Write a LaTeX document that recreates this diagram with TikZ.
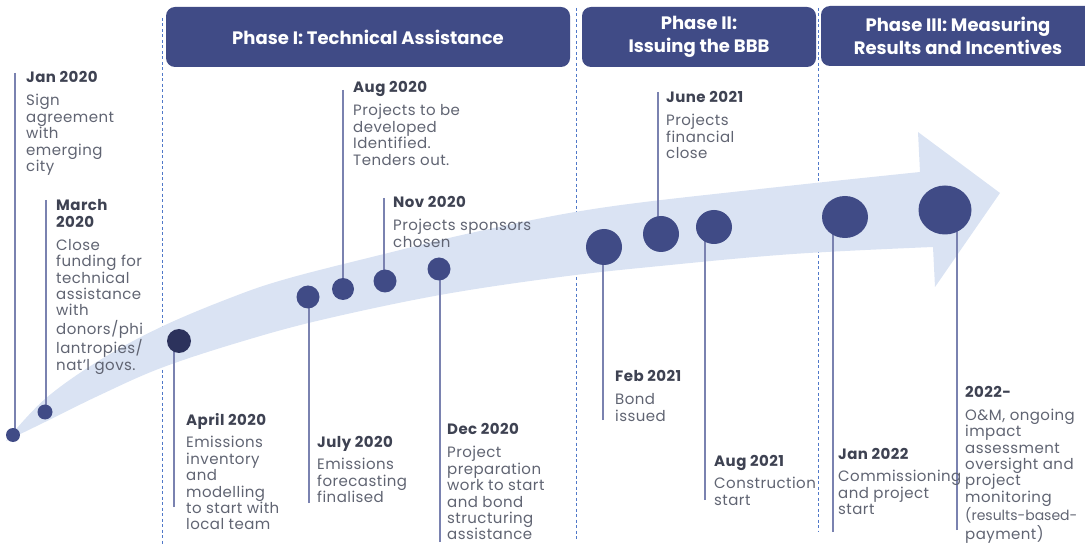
\documentclass[tikz,border=0pt]{standalone}
\usepackage{fontspec}
\setmainfont{Poppins}
\usetikzlibrary{shapes.geometric}
\definecolor{hdr}{RGB}{64,75,134}
\definecolor{dotc}{RGB}{64,75,134}
\definecolor{dotdark}{RGB}{44,50,92}
\definecolor{arrowc}{RGB}{218,227,243}
\definecolor{evl}{RGB}{122,130,176}
\definecolor{dashc}{RGB}{80,120,200}
\definecolor{datec}{RGB}{62,66,82}
\definecolor{bodyc}{RGB}{96,100,114}
\newcommand\dt[1]{{\bfseries\color{datec}#1}}
\newcommand\evtab[1]{\begin{tabular}[t]{@{}l@{}}#1\end{tabular}}
\begin{document}
\begin{tikzpicture}[x=1pt,y=-1pt,
 hdrbox/.style={fill=hdr, rounded corners=9pt, text=white, font=\fontsize{18}{23}\selectfont\bfseries, align=center, inner sep=0pt},
 evtext/.style={anchor=base west, inner sep=0pt, text=bodyc, font=\fontsize{15}{16.4}\selectfont\addfontfeature{LetterSpace=3}},
 dotn/.style={circle, fill=dotc, inner sep=0pt},
 dotel/.style={ellipse, fill=dotc, inner sep=0pt},
 evline/.style={draw=evl, line width=1.4pt},
 phaseline/.style={draw=dashc, line width=0.9pt, dash pattern=on 3pt off 2.5pt},
]
\useasboundingbox (0,0) rectangle (1085,545);
\clip (0,0) rectangle (1085,545);

% phase separators
\coordinate (s1a) at (162,18); \coordinate (s1b) at (162,545);
\coordinate (s2a) at (576,8);  \coordinate (s2b) at (576,540);
\coordinate (s3a) at (818,8);  \coordinate (s3b) at (818,532);
\draw[phaseline] (s1a) -- (s1b);
\draw[phaseline] (s2a) -- (s2b);
\draw[phaseline] (s3a) -- (s3b);

% phase headers
\node[hdrbox, minimum width=404pt, minimum height=60pt] (p1) at (368,37) {Phase I: Technical Assistance};
\node[hdrbox, minimum width=234pt, minimum height=60pt] (p2) at (699,37) {Phase II:\\Issuing the BBB};
\node[hdrbox, minimum width=274pt, minimum height=60pt] (p3) at (958,36) {Phase III: Measuring\\Results and Incentives};

% big arrow
\fill[arrowc] plot[smooth, tension=0.6] coordinates {(6,441) (45,399) (100,360) (161,327) (230,298) (286,279) (380,255) (480,231) (600,208) (760,189) (920,172)}
  -- (918,132) -- (1000,193) -- (935,287) -- (933,247)
  -- plot[smooth, tension=0.6] coordinates {(933,247) (793,254) (660,266) (560,277) (440,295) (321,320) (240,342) (161,368) (100,395) (45,422) (6,441)} -- cycle;

% dot centres
\coordinate (c1) at (13,435);
\coordinate (c2) at (45,412);
\coordinate (c3) at (179,341);
\coordinate (c4) at (308,297);
\coordinate (c5) at (343,289);
\coordinate (c6) at (385,281);
\coordinate (c7) at (439,269);
\coordinate (c8) at (604,247);
\coordinate (c9) at (661,234);
\coordinate (c10) at (714,227);
\coordinate (c11) at (845,217);
\coordinate (c12) at (945,210);

% event line ends
\coordinate (e1) at (15,73);
\coordinate (e2) at (46,200);
\coordinate (e3) at (174,507);
\coordinate (e4) at (309,503);
\coordinate (e5) at (343,90);
\coordinate (e6) at (384,198);
\coordinate (e7) at (440,542);
\coordinate (e8) at (603,420);
\coordinate (e9) at (658,92);
\coordinate (e10) at (705,500);
\coordinate (e11) at (833,532);
\coordinate (e12) at (957,530);
\foreach \i in {1,...,12} {\draw[evline] (e\i) -- (e\i |- c\i);}

% dots
\node[dotn, minimum size=14pt] (d1) at (c1) {};
\node[dotn, minimum size=15pt] (d2) at (c2) {};
\node[dotn, fill=dotdark, minimum size=24pt] (d3) at (c3) {};
\node[dotn, minimum size=23pt] (d4) at (c4) {};
\node[dotn, minimum size=22pt] (d5) at (c5) {};
\node[dotn, minimum size=23pt] (d6) at (c6) {};
\node[dotn, minimum size=23pt] (d7) at (c7) {};
\node[dotn, minimum size=36pt] (d8) at (c8) {};
\node[dotn, minimum size=36pt] (d9) at (c9) {};
\node[dotel, minimum width=36pt, minimum height=34pt] (d10) at (c10) {};
\node[dotel, minimum width=46pt, minimum height=42pt] (d11) at (c11) {};
\node[dotel, minimum width=53pt, minimum height=49pt] (d12) at (c12) {};

% event texts
\node[evtext] (t1) at (26,83) {\evtab{\dt{Jan 2020}\\[6.5pt] Sign\\ agreement\\ with\\ emerging\\ city}};
\node[evtext] (t2) at (56,211) {\evtab{\dt{March}\\ \dt{2020}\\[6.5pt] Close\\ funding for\\ technical\\ assistance\\ with\\ donors/phi\\ lantropies/\\ nat'l govs.}};
\node[evtext] (t3) at (186,425) {\evtab{\dt{April 2020}\\[6.5pt] Emissions\\ inventory\\ and\\ modelling\\ to start with\\ local team}};
\node[evtext] (t4) at (317,447) {\evtab{\dt{July 2020}\\[6.5pt] Emissions\\ forecasting\\ finalised}};
\node[evtext] (t5) at (353,93) {\evtab{\dt{Aug 2020}\\[6.5pt] Projects to be\\ developed\\ Identified.\\ Tenders out.}};
\node[evtext] (t6) at (393,208) {\evtab{\dt{Nov 2020}\\[6.5pt] Projects sponsors\\ chosen}};
\node[evtext] (t7) at (447,435) {\evtab{\dt{Dec 2020}\\[6.5pt] Project\\ preparation\\ work to start\\ and bond\\ structuring\\ assistance}};
\node[evtext] (t8) at (615,382) {\evtab{\dt{Feb 2021}\\[6.5pt] Bond\\ issued}};
\node[evtext] (t9) at (666,103) {\evtab{\dt{June 2021}\\[6.5pt] Projects\\ financial\\ close}};
\node[evtext] (t10) at (714,466) {\evtab{\dt{Aug 2021}\\[6.5pt] Construction\\ start}};
\node[evtext] (t11) at (838,459) {\evtab{\dt{Jan 2022}\\[6.5pt] Commissioning\\ and project\\ start}};
\node[evtext] (t12) at (965,398) {\evtab{\dt{2022-}\\[6pt] O\&M, ongoing\\ impact\\ assessment\\ oversight and\\ project\\ monitoring\\ {\fontsize{14}{16.4}\selectfont\addfontfeature{LetterSpace=0}(results-based-}\\ payment)}};
\end{tikzpicture}
\end{document}
